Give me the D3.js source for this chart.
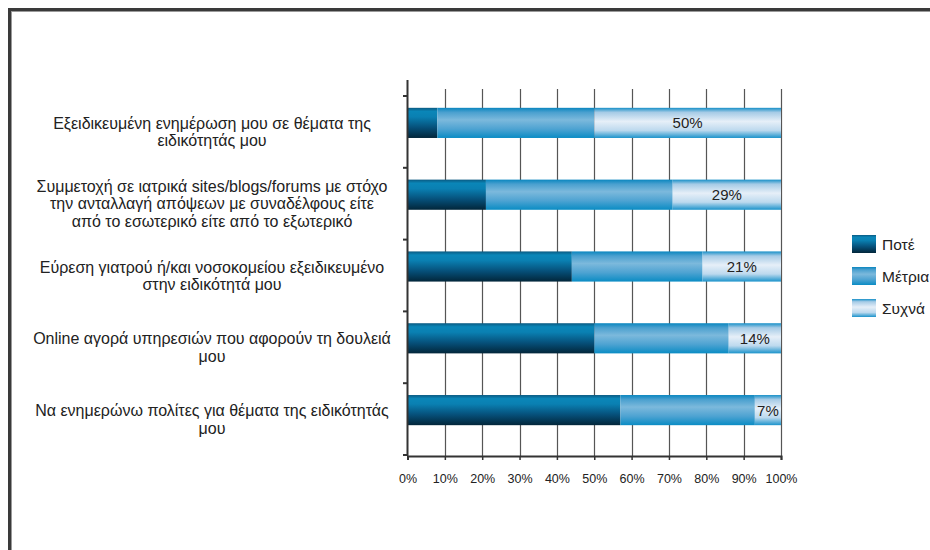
<!DOCTYPE html>
<html><head><meta charset="utf-8">
<script src="https://cdn.jsdelivr.net/npm/d3@7/dist/d3.min.js"></script>
<style>html,body{margin:0;padding:0;background:#fff;overflow:hidden}svg{display:block}</style>
</head><body>
<svg id="c" width="930" height="550"></svg>
<script>
const categories = [
  ["Εξειδικευμένη ενημέρωση μου σε θέματα της", "ειδικότητάς μου"],
  ["Συμμετοχή σε ιατρικά sites/blogs/forums με στόχο", "την ανταλλαγή απόψεων με συναδέλφους είτε", "από το εσωτερικό είτε από το εξωτερικό"],
  ["Εύρεση γιατρού ή/και νοσοκομείου εξειδικευμένο", "στην ειδικότητά μου"],
  ["Online αγορά υπηρεσιών που αφορούν τη δουλειά", "μου"],
  ["Να ενημερώνω πολίτες για θέματα της ειδικότητάς", "μου"]
];
const seriesNames = ["Ποτέ", "Μέτρια", "Συχνά"];
const never = [8, 21, 44, 50, 57];
const moderate = [42, 50, 35, 36, 36];
const often = [50, 29, 21, 14, 7];
const xTicks = [0, 10, 20, 30, 40, 50, 60, 70, 80, 90, 100];

const svg = d3.select("#c");
const font = "'Liberation Sans', Arial, sans-serif";

// frame
svg.append("rect").attr("x", 9.5).attr("y", 9.5).attr("width", 1000).attr("height", 1000)
  .attr("fill", "none").attr("stroke", "#3a3a3a").attr("stroke-width", 3);
svg.append("rect").attr("x", 11.5).attr("y", 11.5).attr("width", 1000).attr("height", 1000)
  .attr("fill", "none").attr("stroke", "#9a9a9a").attr("stroke-width", 1);

// gradients
const defs = svg.append("defs");
const gradStops = [
  [[0, "#0a5a82"], [0.12, "#0a86b8"], [0.3, "#0a80b2"], [0.65, "#06507a"], [1, "#02263a"]],
  [[0, "#0a86bf"], [0.15, "#4aa0cf"], [0.4, "#7cb9dc"], [0.7, "#4ea3d2"], [1, "#0a8cc4"]],
  [[0, "#1890c8"], [0.15, "#a6cbe6"], [0.45, "#e6eff8"], [0.75, "#bcd9ee"], [1, "#1b93cb"]]
];
gradStops.forEach((stops, i) => {
  const g = defs.append("linearGradient").attr("id", "g" + i)
    .attr("x1", 0).attr("y1", 0).attr("x2", 0).attr("y2", 1);
  stops.forEach(s => g.append("stop").attr("offset", s[0]).attr("stop-color", s[1]));
});

const x = d3.scaleLinear().domain([0, 100]).range([407.5, 781]);
const idx = d3.range(categories.length);
const yBand = d3.scaleBand().domain(idx).range([96, 455]).padding(0);
const yBar = d3.scaleBand().domain(idx).range([87, 446]).paddingInner(0.58).paddingOuter(0.29);

// gridlines
svg.append("g").selectAll("line").data(xTicks.slice(1)).join("line")
  .attr("x1", d => Math.round(x(d)) + 0.5).attr("x2", d => Math.round(x(d)) + 0.5)
  .attr("y1", 89).attr("y2", 456)
  .attr("stroke", "#555").attr("stroke-width", 1.2);

// stacked data
const rows = idx.map(i => ({ i, v: [never[i], moderate[i], often[i]] }));
const stack = d3.stack().keys([0, 1, 2]).value((d, k) => d.v[k]);
const stacked = stack(rows);

stacked.forEach((layer, k) => {
  svg.append("g").selectAll("rect").data(layer).join("rect")
    .attr("x", d => x(d[0]))
    .attr("width", d => x(d[1]) - x(d[0]))
    .attr("y", d => yBar(d.data.i))
    .attr("height", yBar.bandwidth())
    .attr("fill", `url(#g${k})`);
});

// value labels for Συχνά
svg.append("g").selectAll("text").data(stacked[2]).join("text")
  .attr("x", d => (x(d[0]) + x(d[1])) / 2)
  .attr("y", d => yBar(d.data.i) + yBar.bandwidth() / 2)
  .attr("dy", "0.36em")
  .attr("text-anchor", "middle")
  .attr("font-family", font).attr("font-size", 15).attr("fill", "#222")
  .text(d => d.data.v[2] + "%");

// left axis
svg.append("line").attr("x1", 407.5).attr("x2", 407.5).attr("y1", 80).attr("y2", 456)
  .attr("stroke", "#333").attr("stroke-width", 2);
const bounds = idx.map(i => yBand(i)).concat([455]);
svg.append("g").selectAll("line").data(bounds).join("line")
  .attr("x1", 403).attr("x2", 408).attr("y1", d => d).attr("y2", d => d)
  .attr("stroke", "#333").attr("stroke-width", 2);

// bottom axis
const xAxis = d3.axisBottom(x).tickValues(xTicks).tickSize(4).tickFormat(d => d + "%");
const gx = svg.append("g").attr("transform", "translate(0,456)").call(xAxis);
gx.select(".domain").attr("stroke", "#333").attr("stroke-width", 2);
gx.selectAll(".tick line").attr("stroke", "#333").attr("stroke-width", 1.5);
gx.selectAll(".tick text").attr("font-family", font).attr("font-size", 12.5).attr("fill", "#222").attr("dy", "1.62em");

// category labels
const lineH = 17.5;
const lab = svg.append("g");
categories.forEach((lines, i) => {
  const cy = yBand(i) + yBand.bandwidth() / 2;
  const t = lab.append("text").attr("font-family", font).attr("font-size", 16)
    .attr("fill", "#222").attr("text-anchor", "middle");
  lines.forEach((ln, j) => {
    t.append("tspan").attr("x", 212)
      .attr("y", cy + (j - (lines.length - 1) / 2) * lineH)
      .attr("dy", "0.36em").text(ln);
  });
});

// legend
const lg = svg.append("g");
seriesNames.forEach((name, k) => {
  const cy = 244 + k * 32;
  lg.append("rect").attr("x", 852).attr("y", cy - 9).attr("width", 24).attr("height", 18)
    .attr("fill", `url(#g${k})`);
  lg.append("text").attr("x", 882).attr("y", cy).attr("dy", "0.36em")
    .attr("font-family", font).attr("font-size", 15.5).attr("fill", "#222").text(name);
});
</script>
</body></html>
